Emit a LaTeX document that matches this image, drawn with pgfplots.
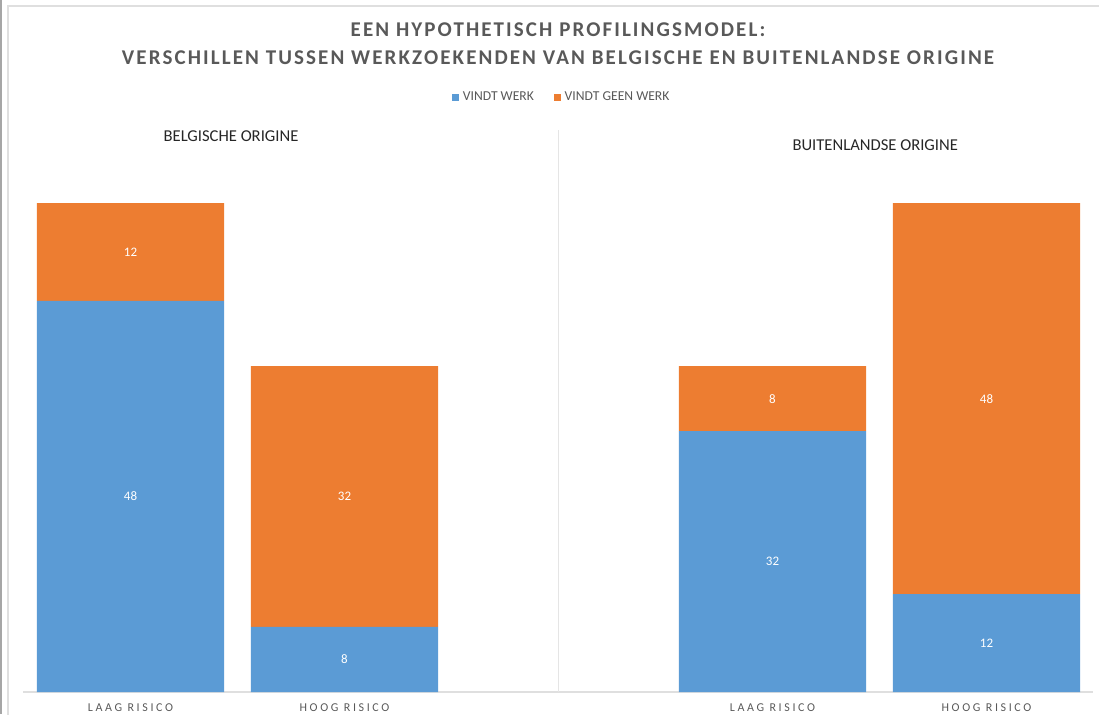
\documentclass[border=0pt]{standalone}
\usepackage{pgfplots}
\pgfplotsset{compat=1.18}
\usepackage{fontspec}
\setmainfont{Carlito}
\newfontfamily\titlefont[LetterSpace=10]{Carlito}
\newfontfamily\tickfont[LetterSpace=22]{Carlito}
\definecolor{cblue}{HTML}{5B9BD5}
\definecolor{corange}{HTML}{ED7D31}
\definecolor{ctitle}{HTML}{595959}
\definecolor{chead}{HTML}{262626}
\begin{document}
\begin{tikzpicture}
\useasboundingbox (0,0) rectangle (549.5pt,357pt);
\fill[gray!70] (0,0) rectangle (1.2pt,357pt);
\draw[gray!25, line width=0.7pt] (4pt,-2pt) -- (4pt,354pt) -- (552pt,354pt);
\node[text=ctitle, font=\titlefont\bfseries\fontsize{10.5pt}{12pt}\selectfont] at (279pt,342pt) {EEN HYPOTHETISCH PROFILINGSMODEL:};
\node[text=ctitle, font=\titlefont\bfseries\fontsize{10.5pt}{12pt}\selectfont] at (279pt,328.3pt) {VERSCHILLEN TUSSEN WERKZOEKENDEN VAN BELGISCHE EN BUITENLANDSE ORIGINE};
\begin{axis}[
  at={(11.75pt,11pt)}, anchor=south west, scale only axis,
  width=535pt, height=244.5pt,
  xmin=-0.5, xmax=4.5, ymin=0, ymax=60,
  ybar stacked, bar width=93.5pt,
  axis y line=none, axis x line=bottom,
  x axis line style={-, draw=gray!25, line width=0.6pt},
  xtick={0,1,3,4},
  xticklabels={LAAG RISICO, HOOG RISICO, LAAG RISICO, HOOG RISICO},
  major tick length=0pt,
  xticklabel style={font=\tickfont\fontsize{6pt}{7pt}\selectfont, text=ctitle, yshift=-2.5pt},
  clip=false,
  nodes near coords={\pgfmathprintnumber[assume math mode=true]{\pgfplotspointmeta}},
  every node near coord/.append style={anchor=center, text=white,
     font=\fontsize{6.5pt}{7.5pt}\selectfont},
  legend style={draw=none, at={(0.504,1.215)}, anchor=center,
     legend columns=2, font=\fontsize{6.8pt}{8pt}\selectfont, text=ctitle,
     /tikz/every even column/.append style={column sep=8pt}},
  legend image code/.code={\fill[#1] (0pt,-1.6pt) rectangle (3.4pt,1.8pt);},
]
\addplot[fill=cblue, draw=none] coordinates {(0,48) (1,8) (3,32) (4,12)};
\addplot[fill=corange, draw=none] coordinates {(0,12) (1,32) (3,8) (4,48)};
\legend{VINDT WERK, VINDT GEEN WERK}
\draw[gray!20, line width=0.6pt] (axis cs:2,0) -- (axis cs:2,68.96);
\node[text=chead, font=\fontsize{8.3pt}{9pt}\selectfont] at (axis cs:0.47,68.2) {BELGISCHE ORIGINE};
\node[text=chead, font=\fontsize{8.3pt}{9pt}\selectfont] at (axis cs:3.48,67.1) {BUITENLANDSE ORIGINE};
\end{axis}
\end{tikzpicture}
\end{document}
